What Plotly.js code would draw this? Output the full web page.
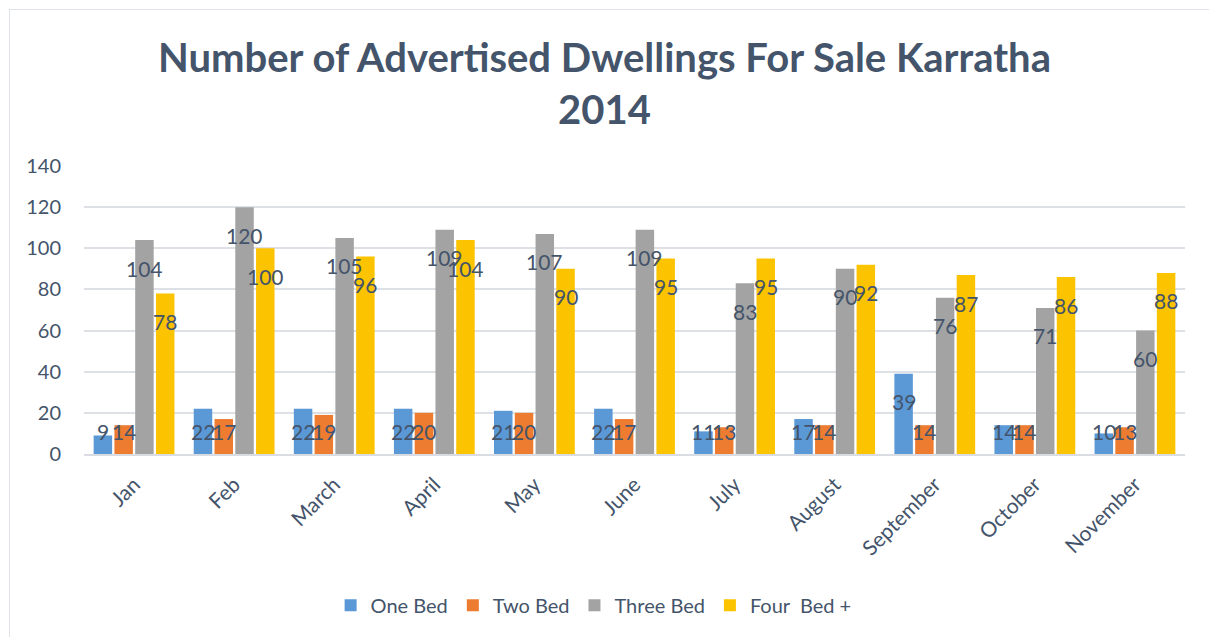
<!DOCTYPE html>
<html>
<head>
<meta charset="utf-8">
<script src="https://cdn.plot.ly/plotly-3.0.1.min.js"></script>
<style>
  html, body { margin:0; padding:0; background:#fff; overflow:hidden; }
  #chart { position:absolute; left:0; top:0; width:1209px; height:637px; }
  #frame { position:absolute; left:9px; top:9px; width:1300px; height:700px; border:1px solid #dfe3e8; pointer-events:none; }
</style>
</head>
<body>
<div id="chart"></div>
<div id="frame"></div>
<script>
const months = ["Jan","Feb","March","April","May","June","July","August","September","October","November"];
const oneBed   = [9, 22, 22, 22, 21, 22, 11, 17, 39, 14, 10];
const twoBed   = [14, 17, 19, 20, 20, 17, 13, 14, 14, 14, 13];
const threeBed = [104, 120, 105, 109, 107, 109, 83, 90, 76, 71, 60];
const fourBed  = [78, 100, 96, 104, 90, 95, 95, 92, 87, 86, 88];
const seriesNames = ["One Bed", "Two Bed", "Three Bed", "Four  Bed +"];

const FONT = "Lato, 'Open Sans', sans-serif";
const TXT = "#44546a";
const colors = ["#5a98d6", "#ee7c30", "#a3a3a3", "#fcc300"];
const allSeries = [oneBed, twoBed, threeBed, fourBed];

const data = allSeries.map((vals, i) => ({
  type: "bar",
  name: seriesNames[i],
  x: months,
  y: vals,
  marker: { color: colors[i] },
  hoverinfo: "x+y+name"
}));

// Data labels: placed a fixed distance below each bar's top, kept above the baseline
const slotOffsets = [-31.2, -10.4, 10.4, 31.2];
const annotations = [];
allSeries.forEach((vals, i) => {
  vals.forEach((v, j) => {
    annotations.push({
      x: months[j], xref: "x",
      y: Math.max(v - 13.6, 10.7), yref: "y",
      xshift: slotOffsets[i],
      text: String(v),
      showarrow: false,
      xanchor: "center", yanchor: "middle",
      font: { family: FONT, size: 21, color: TXT }
    });
  });
});

const layout = {
  width: 1209, height: 637,
  margin: { l: 84, r: 24, t: 166, b: 183 },
  paper_bgcolor: "#ffffff",
  plot_bgcolor: "#ffffff",
  font: { family: FONT, color: TXT },
  title: {
    text: "<b>Number of Advertised Dwellings For Sale Karratha<br>2014</b>",
    font: { family: FONT, size: 40, color: TXT },
    x: 0.5, xanchor: "center",
    yref: "container",
    y: 0.887, yanchor: "middle"
  },
  barmode: "group",
  bargap: 0.17,
  bargroupgap: 0.11,
  xaxis: {
    tickangle: -45,
    tickfont: { family: FONT, size: 21, color: TXT },
    showgrid: false,
    showline: true, linecolor: "#d9dde3", linewidth: 2,
    ticks: "",
    ticklabelstandoff: 8
  },
  yaxis: {
    range: [0, 140],
    dtick: 20,
    tickfont: { family: FONT, size: 20, color: TXT },
    gridcolor: "#dde1e6", gridwidth: 2,
    zeroline: false,
    ticks: "", ticklen: 0,
    ticklabelstandoff: 22
  },
  legend: {
    orientation: "h",
    x: 0.224, xanchor: "left",
    y: -0.525, yanchor: "middle",
    font: { family: FONT, size: 20, color: TXT },
    itemwidth: 30,
    traceorder: "normal"
  },
  annotations: annotations,
  showlegend: true
};

Plotly.newPlot("chart", data, layout, { displayModeBar: false, staticPlot: true });
</script>
</body>
</html>
